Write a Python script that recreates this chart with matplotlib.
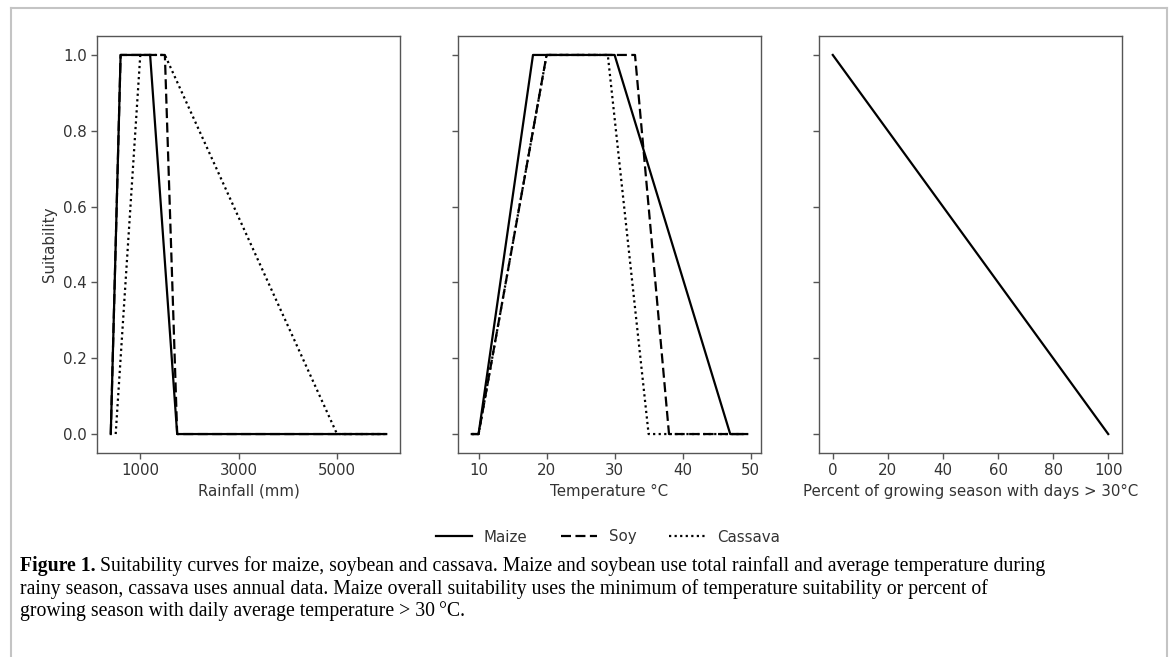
import matplotlib
matplotlib.use("Agg")
import matplotlib.pyplot as plt
from matplotlib.lines import Line2D

plt.rcParams["font.family"] = ["DejaVu Sans"]

# rainfall (mm) breakpoints and suitability
rain_maize_x = [400, 600, 1200, 1750, 6000]
rain_maize_y = [0.0, 1.0, 1.0, 0.0, 0.0]
rain_soy_x = [400, 600, 1500, 1750, 6000]
rain_soy_y = [0.0, 1.0, 1.0, 0.0, 0.0]
rain_cassava_x = [500, 1000, 1500, 5000, 6000]
rain_cassava_y = [0.0, 1.0, 1.0, 0.0, 0.0]

# temperature (C) breakpoints and suitability
temp_maize_x = [9, 10, 18, 30, 47, 49.5]
temp_maize_y = [0.0, 0.0, 1.0, 1.0, 0.0, 0.0]
temp_soy_x = [9, 10, 20, 33, 38, 49.5]
temp_soy_y = [0.0, 0.0, 1.0, 1.0, 0.0, 0.0]
temp_cassava_x = [9, 10, 20, 29, 35, 49.5]
temp_cassava_y = [0.0, 0.0, 1.0, 1.0, 0.0, 0.0]

# percent of season with hot days
hot_x = [0, 100]
hot_y = [1.0, 0.0]

rain_ticks = [1000, 3000, 5000]
caption_lines = [
    "Suitability curves for maize, soybean and cassava. Maize and soybean use total rainfall and average temperature during",
    "rainy season, cassava uses annual data. Maize overall suitability uses the minimum of temperature suitability or percent of",
    "growing season with daily average temperature > 30\u2009\u00b0C.",
]

W, H = 1173, 657
fig = plt.figure(figsize=(W / 100, H / 100), dpi=100)

fs = 10.8
txt_col = "#333333"
spine_col = "#555555"
lw = 1.6
styles = {
    "Maize": dict(ls="-"),
    "Soy": dict(ls=(0, (4.5, 2))),
    "Cassava": dict(ls=(0, (1, 1.5))),
}


def px_axes(left, top, right, bottom):
    return fig.add_axes([left / W, 1 - bottom / H, (right - left) / W, (bottom - top) / H])


ax1 = px_axes(97, 36, 400, 453)
ax2 = px_axes(458, 36, 761, 453)
ax3 = px_axes(819, 36, 1122, 453)

for name, xs, ys in [("Maize", rain_maize_x, rain_maize_y),
                     ("Soy", rain_soy_x, rain_soy_y),
                     ("Cassava", rain_cassava_x, rain_cassava_y)]:
    ax1.plot(xs, ys, color="black", lw=lw, **styles[name])

for name, xs, ys in [("Maize", temp_maize_x, temp_maize_y),
                     ("Soy", temp_soy_x, temp_soy_y),
                     ("Cassava", temp_cassava_x, temp_cassava_y)]:
    ax2.plot(xs, ys, color="black", lw=lw, **styles[name])

ax3.plot(hot_x, hot_y, color="black", lw=lw, ls="-")

ax1.set_xticks(rain_ticks)
ax1.set_xlabel("Rainfall (mm)", fontsize=fs, color=txt_col)
ax1.set_ylabel("Suitability", fontsize=fs, color=txt_col)
ax2.set_xticks([10, 20, 30, 40, 50])
ax2.set_xlabel("Temperature \u00b0C", fontsize=fs, color=txt_col)
ax3.set_xticks([0, 20, 40, 60, 80, 100])
ax3.set_xlabel("Percent of growing season with days > 30\u00b0C", fontsize=fs, color=txt_col)

for ax in (ax1, ax2, ax3):
    ax.set_ylim(-0.05, 1.05)
    ax.set_yticks([0.0, 0.2, 0.4, 0.6, 0.8, 1.0])
    ax.tick_params(labelsize=fs, labelcolor=txt_col, color=spine_col, width=1.0, length=4)
    for sp in ax.spines.values():
        sp.set_color(spine_col)
        sp.set_linewidth(1.0)
ax1.set_yticklabels(["0.0", "0.2", "0.4", "0.6", "0.8", "1.0"])
ax2.set_yticklabels([])
ax3.set_yticklabels([])

handles = [Line2D([], [], color="black", lw=lw, **styles[n]) for n in ["Maize", "Soy", "Cassava"]]
leg = fig.legend(handles, ["Maize", "Soy", "Cassava"], loc="center", ncol=3,
                 bbox_to_anchor=(608 / W, 1 - 537 / H), frameon=False,
                 fontsize=fs, handlelength=2.4, columnspacing=2.2)
for t in leg.get_texts():
    t.set_color(txt_col)

# grey frame around the whole figure
frame_col = "#c4c4c4"
fig.add_artist(Line2D([11 / W, 11 / W], [0, 1 - 8 / H], transform=fig.transFigure, color=frame_col, lw=1.5))
fig.add_artist(Line2D([1167 / W, 1167 / W], [0, 1 - 8 / H], transform=fig.transFigure, color=frame_col, lw=1.5))
fig.add_artist(Line2D([11 / W, 1167 / W], [1 - 8 / H, 1 - 8 / H], transform=fig.transFigure, color=frame_col, lw=1.5))

# caption
cap_fs = 14.2
serif = ["Liberation Serif", "DejaVu Serif"]
line_y = [566, 589, 611]
bold = fig.text(20 / W, 1 - line_y[0] / H, "Figure 1.", fontsize=cap_fs, family=serif,
                fontweight="bold", va="center", ha="left", color="black")
renderer = fig.canvas.get_renderer()
bb = bold.get_window_extent(renderer)
fig.text((bb.x1 + 4) / W, 1 - line_y[0] / H, caption_lines[0], fontsize=cap_fs, family=serif,
         va="center", ha="left", color="black")
for line, y in zip(caption_lines[1:], line_y[1:]):
    fig.text(20 / W, 1 - y / H, line, fontsize=cap_fs, family=serif, va="center", ha="left", color="black")

fig.savefig("out.png", dpi=100)
